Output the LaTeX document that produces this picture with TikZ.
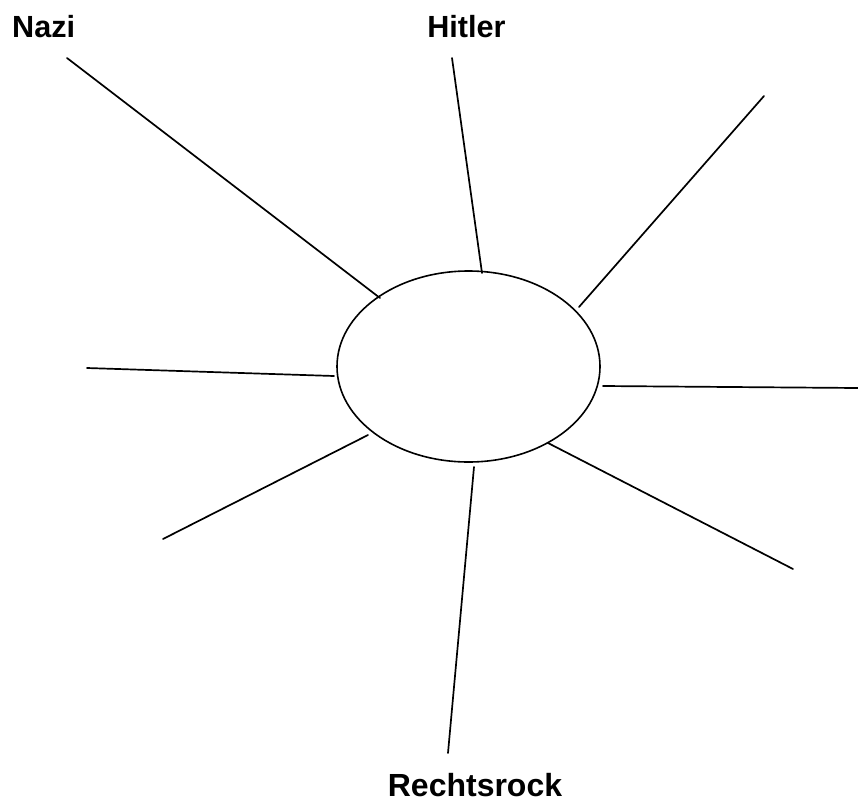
\documentclass[tikz,border=0pt]{standalone}
\usepackage{fontspec}
\setmainfont{Liberation Sans}
\usepackage{tikz}
\usetikzlibrary{shapes.geometric}

\begin{document}
\begin{tikzpicture}[x=1pt, y=-1pt,
  spoke/.style={line width=1.7pt, line cap=round},
  word/.style={font=\bfseries\fontsize{30.6}{36}\selectfont, inner sep=0pt}]
\useasboundingbox (0,0) rectangle (858,803);
\node[draw, ellipse, line width=1.6pt, minimum width=263pt, minimum height=191pt, inner sep=0pt] (hub) at (468.5,366.5) {};
% labels
\node[word, anchor=base west] (nazi) at (12,37) {Nazi};
\node[word, anchor=base] (hitler) at (466.5,37) {Hitler};
\node[word, anchor=base, font=\bfseries\fontsize{32}{38}\selectfont] (rock) at (475,796) {Rechtsrock};
% spoke ends
\coordinate (n1) at (67,58);   \coordinate (m1) at (380,298);
\coordinate (n2) at (452,58);  \coordinate (m2) at (482,273);
\coordinate (n3) at (764,96);  \coordinate (m3) at (579,307);
\coordinate (n4) at (87,368);  \coordinate (m4) at (334,376);
\coordinate (n5) at (858,388); \coordinate (m5) at (603,386);
\coordinate (n6) at (163,539); \coordinate (m6) at (368,435);
\coordinate (n7) at (793,569); \coordinate (m7) at (548,443);
\coordinate (n8) at (448,753); \coordinate (m8) at (474,467);
\foreach \i in {1,...,8}
  \draw[spoke] (n\i) -- (m\i);
\end{tikzpicture}
\end{document}
